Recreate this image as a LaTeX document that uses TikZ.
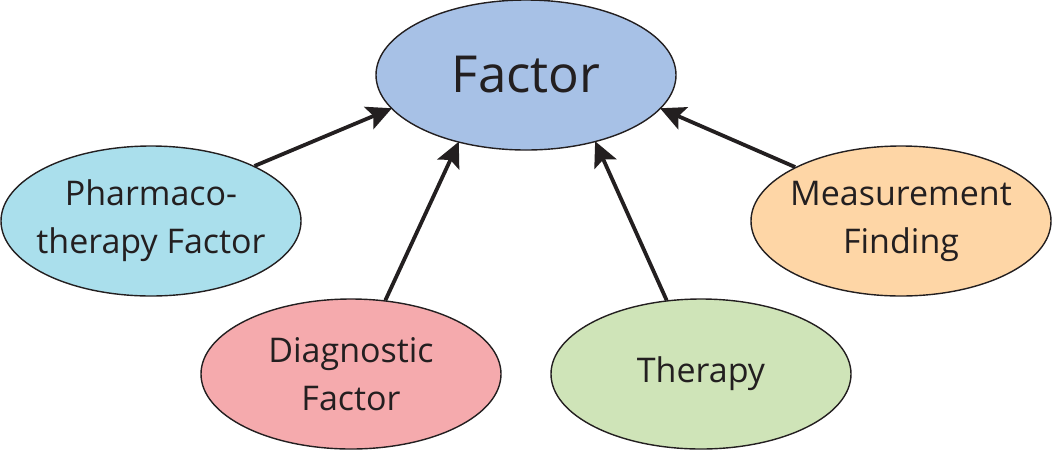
\documentclass[tikz,border=0pt]{standalone}
\usepackage{fontspec}
\setmainfont{Open Sans}
\usepackage{xcolor}
\definecolor{cInk}{HTML}{231F20}
\definecolor{cFactor}{HTML}{A7C1E6}
\definecolor{cPharm}{HTML}{AADFEC}
\definecolor{cDiag}{HTML}{F5AAAD}
\definecolor{cTher}{HTML}{CFE4B8}
\definecolor{cMeas}{HTML}{FED6A6}
\usetikzlibrary{positioning,arrows.meta,shapes.geometric}
\tikzset{
  node-oval/.style={draw=cInk,line width=1.4pt,ellipse,inner ysep=0pt,
    inner xsep=-20pt,minimum width=300pt,minimum height=150pt,align=center,
    text=cInk,font=\fontsize{34}{48}\selectfont},
  arrow/.style={-{Stealth[length=25pt,width=24pt,inset=5pt]},
    line width=3.8pt,draw=cInk,shorten >=-1pt},
}

\begin{document}
\begin{tikzpicture}[x=1pt,y=-1pt]
  \useasboundingbox (0,0) rectangle (1052,451);
  \node[node-oval,fill=cFactor,font=\fontsize{51}{60}\selectfont] (fac) at (526,75) {Factor};
  \node[node-oval,fill=cPharm] (pha) at (151,221) {Pharmaco-\\therapy Factor};
  \node[node-oval,fill=cDiag]  (dia) at (351,374) {Diagnostic\\Factor};
  \node[node-oval,fill=cTher]  (the) at (701,374) {Therapy};
  \node[node-oval,fill=cMeas]  (mea) at (901,221) {Measurement\\Finding};
  \draw[arrow] (pha.28)  -- (fac.194);
  \draw[arrow] (dia.65)  -- (fac.225);
  \draw[arrow] (the.115) -- (fac.316);
  \draw[arrow] (mea.153) -- (fac.346);
\end{tikzpicture}
\end{document}
